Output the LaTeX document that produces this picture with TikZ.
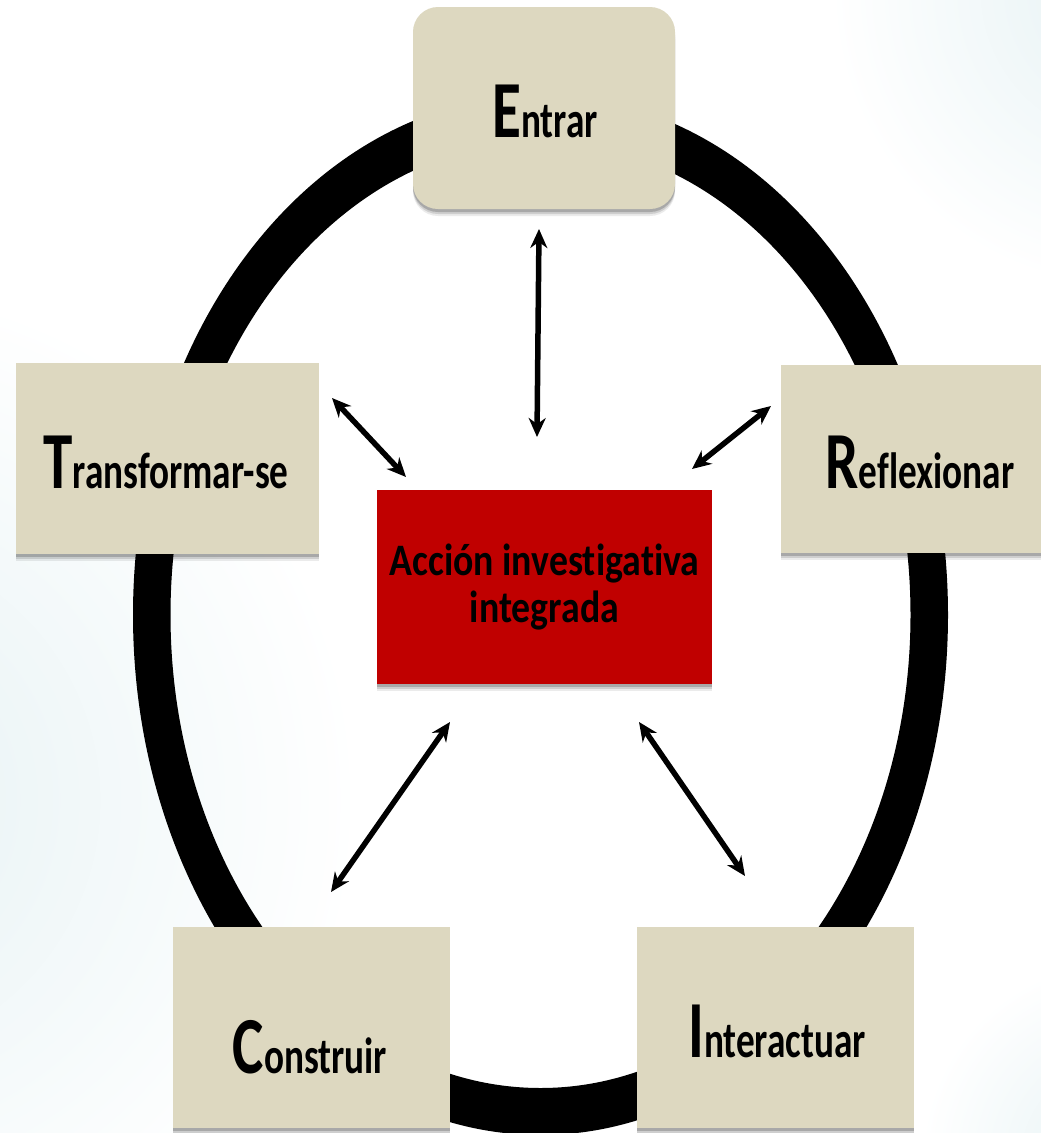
\documentclass[tikz,border=0pt]{standalone}
\usepackage{fontspec}
\setmainfont{Carlito}
\newfontfamily\stagefont[FakeStretch=0.73,RawFeature=-liga]{Carlito}
\newfontfamily\corefont[FakeStretch=0.84,RawFeature=-liga]{Carlito}
\usetikzlibrary{arrows.meta,shadows}
\definecolor{stagefill}{HTML}{DDD8C0}
\definecolor{corered}{HTML}{C00000}
\definecolor{bgtint}{HTML}{E6F2F4}
% stage name: enlarged initial followed by the rest of the word
\newcommand\stagename[2]{\stagefont\bfseries{\fontsize{81}{81}\selectfont #1}{\fontsize{51}{51}\selectfont #2}}

\begin{document}
\begin{tikzpicture}[x=1pt,y=-1pt,
  softshadow/.style={
    drop shadow={shadow xshift=0pt, shadow yshift=-7pt, opacity=0.08, fill=black},
    drop shadow={shadow xshift=0pt, shadow yshift=-5pt, opacity=0.12, fill=black},
    drop shadow={shadow xshift=0pt, shadow yshift=-3pt, opacity=0.18, fill=black}},
  stagebox/.style={fill=stagefill, inner sep=0pt, outer sep=0pt, softshadow},
  corebox/.style={fill=corered, inner sep=0pt, outer sep=0pt, align=center,
    font=\corefont\bfseries\fontsize{45}{47}\selectfont, softshadow},
  stagelabel/.style={anchor=base, inner sep=0pt},
  link/.style={line width=5.5pt, {Stealth[length=19pt,width=17pt]}-{Stealth[length=19pt,width=17pt]}}
]
\useasboundingbox (0,0) rectangle (1041,1133);
\fill[white] (0,0) rectangle (1041,1133);

% faint tinted background
\begin{scope}
\clip (0,0) rectangle (1041,1133);
\shade[inner color=bgtint, outer color=white] (-160,800) circle (520);
\shade[inner color=bgtint, outer color=white] (1130,-10) circle (300);
\shade[inner color=bgtint, outer color=white] (1120,1160) circle (200);
\end{scope}

% the cycle ring
\fill[black, even odd rule]
  (540.5,615) ellipse [x radius=407.5, y radius=520]
  (540.5,615) ellipse [x radius=370, y radius=473];

% stage boxes
\node[stagebox, rounded corners=25pt, minimum width=262pt, minimum height=202pt] (entrar) at (544,108) {};
\node[stagebox, minimum width=303pt, minimum height=191pt] (transf) at (167.5,458.5) {};
\node[stagebox, minimum width=284pt, minimum height=188pt] (reflex) at (923,459) {};
\node[stagebox, minimum width=277pt, minimum height=201pt] (constr) at (311.5,1027.5) {};
\node[stagebox, minimum width=277pt, minimum height=201pt] (interac) at (775.5,1027.5) {};

\node[stagelabel] (lE) at (545,137) {\stagename{E}{ntrar}};
\node[stagelabel] (lT) at (166,488) {\stagename{T}{ransformar-se}};
\node[stagelabel] (lR) at (920,488) {\stagename{R}{eflexionar}};
\node[stagelabel] (lC) at (310,1073) {\stagename{C}{onstruir}};
\node[stagelabel] (lI) at (777,1057) {\stagename{I}{nteractuar}};

% central box
\node[corebox, minimum width=335pt, minimum height=194pt] (core) at (544.5,587)
  {Acción investigativa\\integrada};

% arrow ends
\coordinate (aE1) at (539,229);  \coordinate (aE2) at (537,437);
\coordinate (aT1) at (332,398);  \coordinate (aT2) at (406,477);
\coordinate (aR1) at (771,406);  \coordinate (aR2) at (692,469);
\coordinate (aC1) at (450,722);  \coordinate (aC2) at (331,892);
\coordinate (aI1) at (639,722);  \coordinate (aI2) at (745,876);

\draw[link] (aE1) -- (aE2);
\draw[link] (aT1) -- (aT2);
\draw[link] (aR1) -- (aR2);
\draw[link] (aC1) -- (aC2);
\draw[link] (aI1) -- (aI2);
\end{tikzpicture}
\end{document}
